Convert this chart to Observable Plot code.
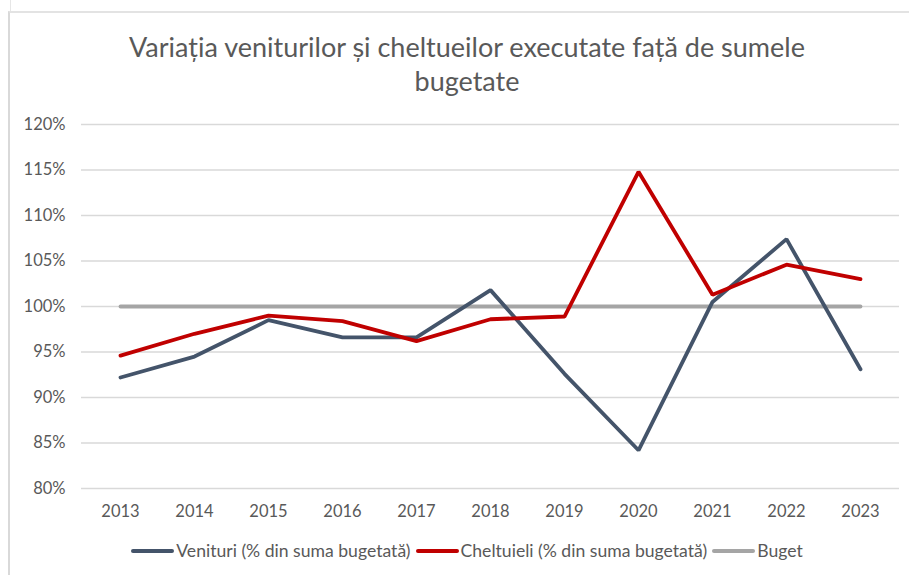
<!DOCTYPE html>
<html>
<head>
<meta charset="utf-8">
<script src="https://cdn.jsdelivr.net/npm/d3@7"></script>
<script src="https://cdn.jsdelivr.net/npm/@observablehq/plot@0.6"></script>
<style>
  html, body { margin: 0; padding: 0; background: #fff; }
  #wrap { position: relative; width: 909px; height: 575px; overflow: hidden; font-family: Lato, "Liberation Sans", sans-serif; color: #595959; }
  #frame { position: absolute; left: 8px; top: 11px; width: 920px; height: 600px; border-left: 2px solid #d9d9d9; border-top: 2px solid #e3e3e3; }
  #stub { position: absolute; left: 10px; top: 0; width: 1px; height: 11px; background: #e6e6e6; }
  #title { position: absolute; left: 10px; width: 914px; top: 30px; text-align: center; font-size: 27px; line-height: 34px; color: #595959; }
  #chart { position: absolute; left: 0; top: 104px; }
  #legend { position: absolute; left: 0; width: 909px; top: 540px; display: flex; justify-content: center; align-items: center; font-size: 17.6px; color: #595959; padding-left: 30px; box-sizing: border-box; }
  .item { display: flex; align-items: center; margin-right: 5px; }
  .sw { width: 43px; height: 4px; border-radius: 2px; margin-right: 2px; }
</style>
</head>
<body>
<div id="wrap">
  <div id="stub"></div>
  <div id="frame"></div>
  <div id="title">Variația veniturilor și cheltueilor executate față de sumele<br>bugetate</div>
  <div id="chart"></div>
  <div id="legend"></div>
</div>
<script>
const years = ["2013","2014","2015","2016","2017","2018","2019","2020","2021","2022","2023"];
const venituri = [92.2, 94.5, 98.5, 96.6, 96.6, 101.8, 92.6, 84.2, 100.5, 107.4, 93.1];
const cheltuieli = [94.6, 97.0, 99.0, 98.4, 96.2, 98.6, 98.9, 114.8, 101.3, 104.6, 103.0];
const buget = [100, 100, 100, 100, 100, 100, 100, 100, 100, 100, 100];
const yTicks = [80, 85, 90, 95, 100, 105, 110, 115, 120];
const seriesNames = ["Venituri (% din suma bugetată)", "Cheltuieli (% din suma bugetată)", "Buget"];
const seriesColors = ["#44546A", "#C00000", "#A5A5A5"];

const rows = (vals) => years.map((y, i) => ({year: y, value: vals[i]}));

const chart = Plot.plot({
  width: 909,
  height: 424,
  marginTop: 20,
  marginBottom: 40,
  marginLeft: 81,
  marginRight: 10,
  style: {fontFamily: "Lato, 'Liberation Sans', sans-serif", fontSize: "16.5px", color: "#595959", background: "transparent", overflow: "visible"},
  x: {type: "point", domain: years, padding: 0.5, label: null, tickSize: 0, tickPadding: 17},
  y: {domain: [80, 120], ticks: yTicks, tickFormat: d => d + "%", label: null, tickSize: 0, tickPadding: 16},
  marks: [
    Plot.gridY(yTicks, {stroke: "#d9d9d9", strokeOpacity: 1, strokeWidth: 1.3}),
    Plot.axisX({tickSize: 0, tickPadding: 17, fill: "#595959"}),
    Plot.axisY({ticks: yTicks, tickFormat: d => d + "%", tickSize: 0, tickPadding: 16, fill: "#595959"}),
    Plot.line(rows(buget), {x: "year", y: "value", stroke: seriesColors[2], strokeWidth: 3.8, strokeLinecap: "round"}),
    Plot.line(rows(venituri), {x: "year", y: "value", stroke: seriesColors[0], strokeWidth: 3.8, strokeLinecap: "round", strokeLinejoin: "miter"}),
    Plot.line(rows(cheltuieli), {x: "year", y: "value", stroke: seriesColors[1], strokeWidth: 3.8, strokeLinecap: "round", strokeLinejoin: "miter"})
  ]
});
document.getElementById("chart").appendChild(chart);

const legend = document.getElementById("legend");
seriesNames.forEach((n, i) => {
  const it = document.createElement("div");
  it.className = "item";
  const sw = document.createElement("div");
  sw.className = "sw";
  sw.style.background = seriesColors[i];
  const t = document.createElement("span");
  t.textContent = n;
  it.appendChild(sw); it.appendChild(t);
  legend.appendChild(it);
});
</script>
</body>
</html>
